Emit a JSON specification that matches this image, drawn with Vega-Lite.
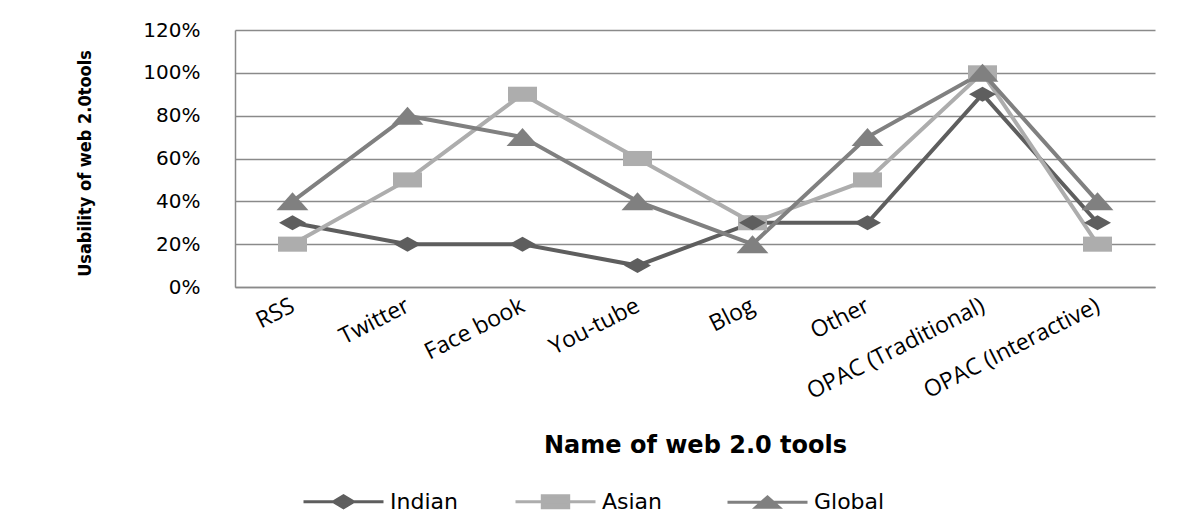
{
  "$schema": "https://vega.github.io/schema/vega-lite/v6.json",
  "width": 920,
  "height": 257,
  "autosize": "none",
  "padding": {"left": 235, "top": 30, "right": 33, "bottom": 242},
  "background": "white",
  "config": {
    "view": {"stroke": null},
    "axis": {"gridColor": "#8a8a8a", "gridWidth": 1.5, "domainColor": "#8a8a8a", "domainWidth": 1.5}
  },
  "data": {
    "values": [
      {"tool": "RSS", "group": "Indian", "value": 0.3},
      {"tool": "Twitter", "group": "Indian", "value": 0.2},
      {"tool": "Face book", "group": "Indian", "value": 0.2},
      {"tool": "You-tube", "group": "Indian", "value": 0.1},
      {"tool": "Blog", "group": "Indian", "value": 0.3},
      {"tool": "Other", "group": "Indian", "value": 0.3},
      {"tool": "OPAC (Traditional)", "group": "Indian", "value": 0.9},
      {"tool": "OPAC (Interactive)", "group": "Indian", "value": 0.3},
      {"tool": "RSS", "group": "Asian", "value": 0.2},
      {"tool": "Twitter", "group": "Asian", "value": 0.5},
      {"tool": "Face book", "group": "Asian", "value": 0.9},
      {"tool": "You-tube", "group": "Asian", "value": 0.6},
      {"tool": "Blog", "group": "Asian", "value": 0.3},
      {"tool": "Other", "group": "Asian", "value": 0.5},
      {"tool": "OPAC (Traditional)", "group": "Asian", "value": 1.0},
      {"tool": "OPAC (Interactive)", "group": "Asian", "value": 0.2},
      {"tool": "RSS", "group": "Global", "value": 0.4},
      {"tool": "Twitter", "group": "Global", "value": 0.8},
      {"tool": "Face book", "group": "Global", "value": 0.7},
      {"tool": "You-tube", "group": "Global", "value": 0.4},
      {"tool": "Blog", "group": "Global", "value": 0.2},
      {"tool": "Other", "group": "Global", "value": 0.7},
      {"tool": "OPAC (Traditional)", "group": "Global", "value": 1.0},
      {"tool": "OPAC (Interactive)", "group": "Global", "value": 0.4}
    ]
  },
  "encoding": {
    "x": {
      "field": "tool",
      "type": "nominal",
      "sort": null,
      "scale": {"type": "point", "padding": 0.5},
      "axis": {
        "title": "Name of web 2.0 tools",
        "titleFont": "DejaVu Sans",
        "titleFontSize": 24,
        "titleFontWeight": "bold",
        "titleColor": "#000",
        "titleY": 158,
        "titleBaseline": "middle",
        "labelAngle": -27,
        "labelAlign": "right",
        "labelBaseline": "middle",
        "labelFont": "Open Sans",
        "labelFontSize": 23,
        "labelColor": "#000",
        "labelPadding": 17,
        "labelLimit": 500,
        "ticks": false,
        "grid": false,
        "labelOverlap": false
      }
    },
    "y": {
      "field": "value",
      "type": "quantitative",
      "scale": {"domain": [0, 1.2], "nice": false},
      "axis": {
        "title": "Usability of web 2.0tools",
        "titleFont": "DejaVu Sans Condensed",
        "titleFontSize": 18,
        "titleFontWeight": "bold",
        "titleColor": "#000",
        "titleX": -150,
        "titleY": 133,
        "titleAngle": -90,
        "titleBaseline": "middle",
        "titleAlign": "center",
        "values": [0, 0.2, 0.4, 0.6, 0.8, 1.0, 1.2],
        "format": ".0%",
        "labelFont": "DejaVu Sans",
        "labelFontSize": 20,
        "labelColor": "#000",
        "labelPadding": 35,
        "ticks": false,
        "grid": true
      }
    },
    "color": {
      "field": "group",
      "type": "nominal",
      "sort": ["Indian", "Asian", "Global"],
      "scale": {"domain": ["Indian", "Asian", "Global"], "range": ["#5e5e5e", "#adadad", "#808080"]},
      "legend": null
    }
  },
  "layer": [
    {
      "mark": {"type": "line", "strokeWidth": 4},
      "encoding": {
        "color": {
          "field": "group",
          "type": "nominal",
          "sort": ["Indian", "Asian", "Global"],
          "scale": {"domain": ["Indian", "Asian", "Global"], "range": ["#5e5e5e", "#adadad", "#808080"]},
          "legend": {
            "orient": "none",
            "legendX": 67,
            "legendY": 430,
            "direction": "horizontal",
            "title": null,
            "symbolSize": 6400,
            "symbolStrokeWidth": 3,
            "labelFont": "DejaVu Sans",
            "labelFontSize": 22,
            "labelColor": "#000",
            "labelOffset": 5,
            "columnPadding": 48,
            "gridAlign": "all",
            "encode": {
              "symbols": {
                "update": {
                  "shape": {"signal": "datum.value === 'Indian' ? 'M-1,0H1M-0.25,0L0,-0.15L0.25,0L0,0.15Z' : datum.value === 'Asian' ? 'M-1,0H1M-0.33,-0.15H0.33V0.15H-0.33Z' : 'M-1,0H1M-0.29,0.13L0.29,0.13L0,-0.13Z'"},
                  "fill": {"signal": "scale('color', datum.value)"},
                  "stroke": {"signal": "scale('color', datum.value)"},
                  "strokeWidth": {"value": 3},
                  "opacity": {"value": 1},
                  "fillOpacity": {"value": 1}
                }
              }
            }
          }
        }
      }
    },
    {
      "transform": [{"filter": "datum.group === 'Asian'"}],
      "mark": {"type": "point", "filled": true, "opacity": 1, "size": 841, "shape": "M-1,-0.52H1V0.52H-1Z"}
    },
    {
      "transform": [{"filter": "datum.group === 'Global'"}],
      "mark": {"type": "point", "filled": true, "opacity": 1, "size": 841, "shape": "M-1.1,0.62L1.1,0.62L0,-0.62Z"}
    },
    {
      "transform": [{"filter": "datum.group === 'Indian'"}],
      "mark": {"type": "point", "filled": true, "opacity": 1, "size": 841, "shape": "M-0.93,0L0,-0.52L0.93,0L0,0.52Z"}
    }
  ]
}
